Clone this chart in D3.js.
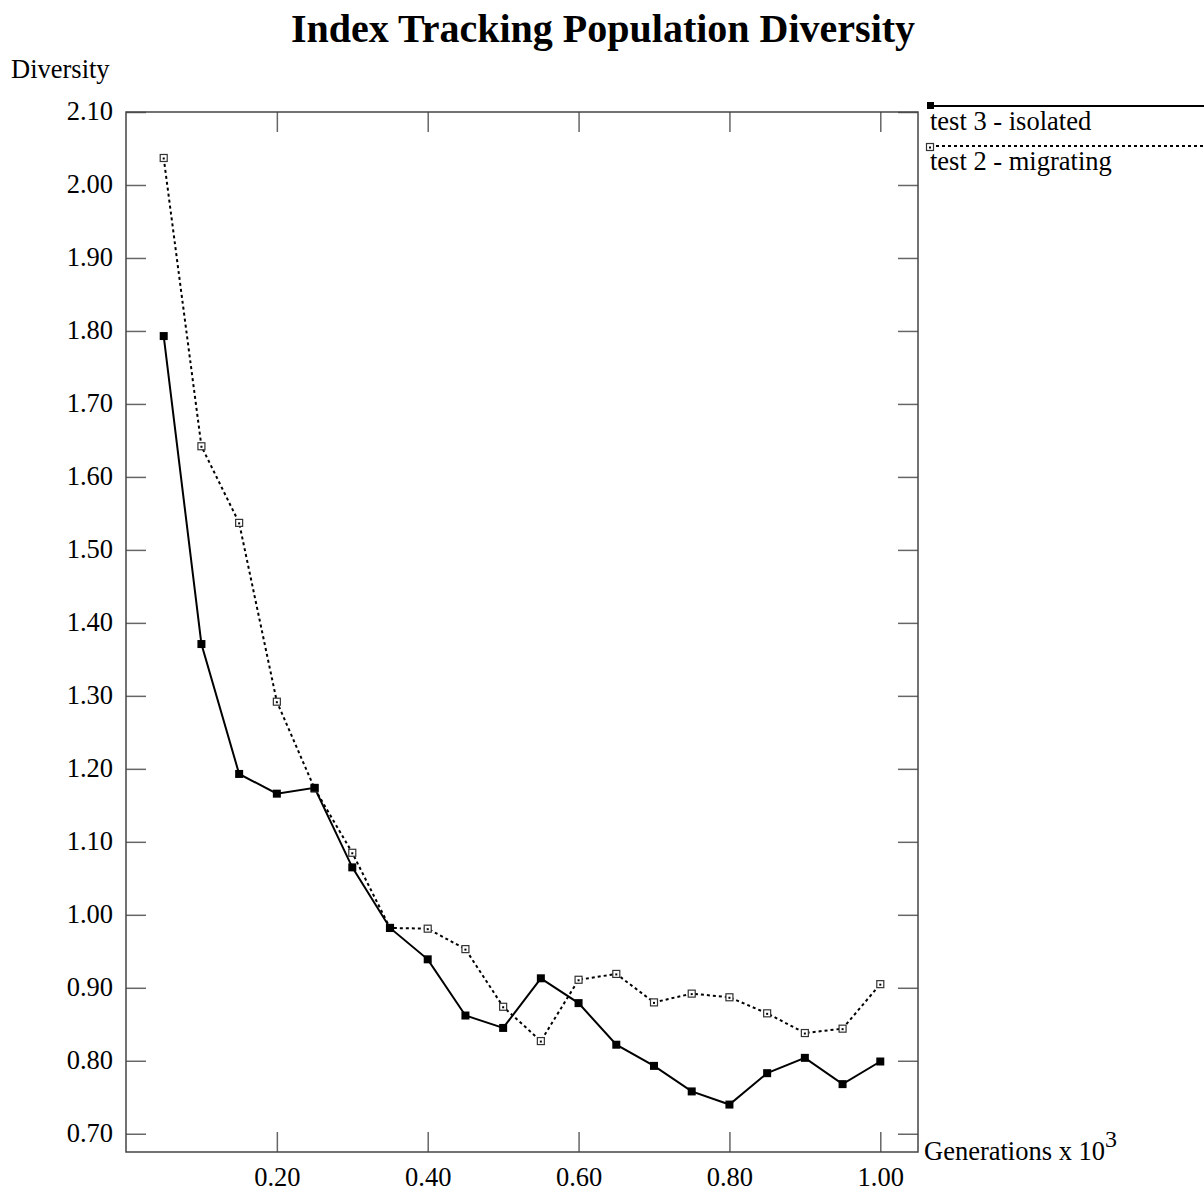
<!DOCTYPE html>
<html>
<head>
<meta charset="utf-8">
<script src="https://cdn.jsdelivr.net/npm/d3@7"></script>
<style>
  body { margin: 0; background: #fff; }
  text { font-family: "Liberation Serif", "Times New Roman", serif; fill: #000; }
</style>
</head>
<body>
<svg id="chart" width="1204" height="1192"></svg>
<script>
// *** data ***
var generations = [0.05, 0.10, 0.15, 0.20, 0.25, 0.30, 0.35, 0.40, 0.45, 0.50,
                   0.55, 0.60, 0.65, 0.70, 0.75, 0.80, 0.85, 0.90, 0.95, 1.00];
var isolated = [1.793, 1.371, 1.193, 1.166, 1.174, 1.065, 0.982, 0.939, 0.862, 0.845,
                0.913, 0.879, 0.822, 0.793, 0.758, 0.740, 0.783, 0.804, 0.768, 0.799];
var migrating = [2.037, 1.642, 1.537, 1.292, 1.173, 1.085, 0.982, 0.981, 0.953, 0.874,
                 0.827, 0.911, 0.919, 0.880, 0.892, 0.887, 0.865, 0.838, 0.844, 0.905];
var xTicks = [0.20, 0.40, 0.60, 0.80, 1.00];
var yTicks = [0.70, 0.80, 0.90, 1.00, 1.10, 1.20, 1.30, 1.40, 1.50, 1.60, 1.70, 1.80, 1.90, 2.00, 2.10];
var seriesNames = ["test 3 - isolated", "test 2 - migrating"];

var svg = d3.select("#chart");

// note: "top" is reserved on window, so use plot* names
var plotLeft = 126, plotRight = 918, plotTop = 112, plotBottom = 1152;
var fontSize = "26.5px";

var x = d3.scaleLinear().domain([0, 1.05]).range([plotLeft, plotRight]);
var y = d3.scaleLinear().domain([0.675, 2.10]).range([plotBottom, plotTop]);

// title
svg.append("text")
    .attr("x", 603).attr("y", 42)
    .attr("text-anchor", "middle")
    .style("font-size", "40px").style("font-weight", "bold")
    .text("Index Tracking Population Diversity");

svg.append("text")
    .attr("x", 11).attr("y", 78)
    .style("font-size", fontSize)
    .text("Diversity");

// axes, ticks pointing inward
var fmt = d3.format(".2f");
var tickColor = "#666";

var yAxisG = svg.append("g")
    .attr("transform", "translate(" + plotLeft + ",0)")
    .call(d3.axisLeft(y).tickValues(yTicks).tickFormat(fmt).tickSizeInner(-20).tickSizeOuter(0).tickPadding(13));
svg.append("g")
    .attr("transform", "translate(" + plotRight + ",0)")
    .call(d3.axisRight(y).tickValues(yTicks).tickFormat("").tickSizeInner(-20).tickSizeOuter(0));
var xAxisG = svg.append("g")
    .attr("transform", "translate(0," + plotBottom + ")")
    .call(d3.axisBottom(x).tickValues(xTicks).tickFormat(fmt).tickSizeInner(-20).tickSizeOuter(0).tickPadding(15));
svg.append("g")
    .attr("transform", "translate(0," + plotTop + ")")
    .call(d3.axisTop(x).tickValues(xTicks).tickFormat("").tickSizeInner(-20).tickSizeOuter(0));

svg.selectAll(".domain").remove();
svg.selectAll(".tick line").attr("stroke", tickColor).attr("stroke-width", 1.5);
svg.selectAll(".tick text")
    .style("font-family", "'Liberation Serif', serif")
    .style("font-size", fontSize)
    .attr("fill", "#000");
yAxisG.selectAll(".tick text").attr("dy", "0.3em");
xAxisG.selectAll(".tick text").attr("dy", "0.72em");

// frame
svg.append("rect")
    .attr("x", plotLeft).attr("y", plotTop)
    .attr("width", plotRight - plotLeft).attr("height", plotBottom - plotTop)
    .attr("fill", "none").attr("stroke", "#444").attr("stroke-width", 1.5);

// x label
var xl = svg.append("text")
    .attr("x", 924).attr("y", 1160)
    .style("font-size", fontSize);
xl.append("tspan").text("Generations x 10");
xl.append("tspan").attr("dy", -13).style("font-size", "24px").text("3");

// lines
var lineMaker = d3.line()
    .x(d => x(d[0]))
    .y(d => y(d[1]));

var migData = generations.map((g, i) => [g, migrating[i]]);
var isoData = generations.map((g, i) => [g, isolated[i]]);

svg.append("path")
    .attr("d", lineMaker(migData))
    .attr("fill", "none").attr("stroke", "#000")
    .attr("stroke-width", 2).attr("stroke-dasharray", "3,3");

svg.append("path")
    .attr("d", lineMaker(isoData))
    .attr("fill", "none").attr("stroke", "#000")
    .attr("stroke-width", 2);

function openMarker(g, px, py) {
    g.append("rect")
        .attr("x", px - 3.5).attr("y", py - 3.5)
        .attr("width", 7).attr("height", 7)
        .attr("fill", "#fff").attr("stroke", "#333").attr("stroke-width", 1.2);
    g.append("rect")
        .attr("x", px - 1).attr("y", py - 0.5)
        .attr("width", 2).attr("height", 2)
        .attr("fill", "#000");
}

var migMarks = svg.append("g");
migData.forEach(d => openMarker(migMarks, x(d[0]), y(d[1])));

svg.append("g").selectAll("rect")
    .data(isoData).enter().append("rect")
    .attr("x", d => x(d[0]) - 4).attr("y", d => y(d[1]) - 4)
    .attr("width", 8).attr("height", 8)
    .attr("fill", "#000");

// legend
var legend = svg.append("g");
legend.append("line")
    .attr("x1", 930).attr("x2", 1204).attr("y1", 106).attr("y2", 106)
    .attr("stroke", "#000").attr("stroke-width", 2);
legend.append("rect")
    .attr("x", 927).attr("y", 102).attr("width", 7).attr("height", 7).attr("fill", "#000");
legend.append("text")
    .attr("x", 930).attr("y", 130)
    .style("font-size", fontSize).text(seriesNames[0]);

legend.append("line")
    .attr("x1", 930).attr("x2", 1204).attr("y1", 146).attr("y2", 146)
    .attr("stroke", "#000").attr("stroke-width", 2).attr("stroke-dasharray", "3,3");
openMarker(legend, 930, 147);
legend.append("text")
    .attr("x", 930).attr("y", 170)
    .style("font-size", fontSize).text(seriesNames[1]);
</script>
</body>
</html>
